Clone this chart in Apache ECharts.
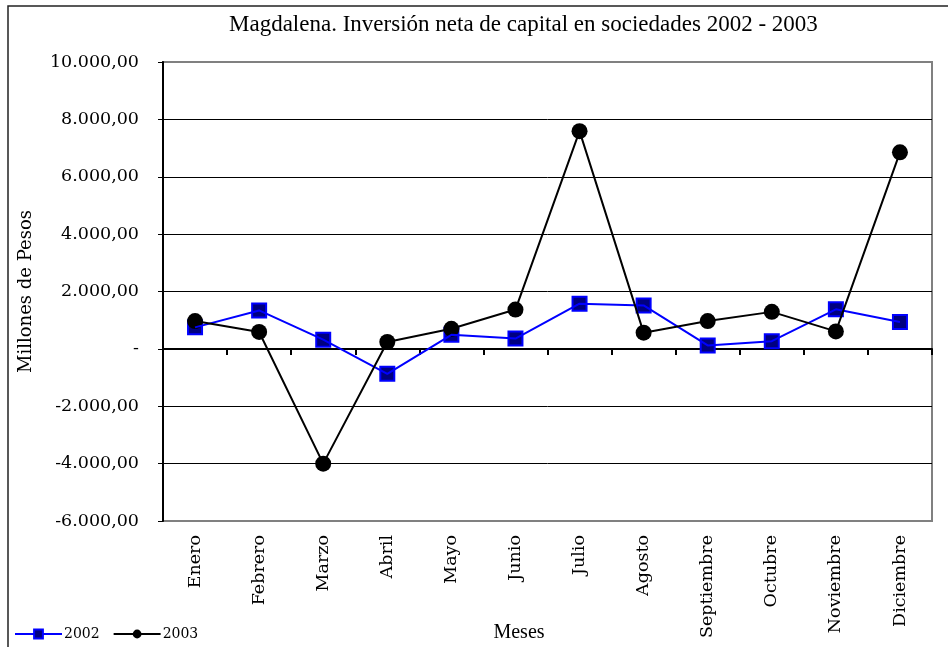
<!DOCTYPE html>
<html><head><meta charset="utf-8">
<script src="https://cdn.jsdelivr.net/npm/echarts@6/dist/echarts.min.js"></script>
<style>html,body{margin:0;padding:0;background:#fff}#c{width:948px;height:647px}</style>
</head><body><div id="c"></div>
<script>
const months = ['Enero','Febrero','Marzo','Abril','Mayo','Junio','Julio','Agosto','Septiembre','Octubre','Noviembre','Diciembre'];
const values2002 = [750, 1340, 320, -870, 490, 360, 1575, 1515, 120, 270, 1380, 935];
const values2003 = [970, 590, -4000, 240, 700, 1370, 7590, 565, 970, 1290, 610, 6850];
const yTicks = {min: -6000, max: 10000, interval: 2000};

function fmt(v){
  if (v === 0) return '-';
  const neg = v < 0; let s = String(Math.abs(Math.round(v)));
  s = s.replace(/\B(?=(\d{3})+(?!\d))/g, '.');
  return (neg ? '-' : '') + s + ',00';
}
const wide = "'DejaVu Serif', serif";
const narrow = "'Liberation Serif', serif";
const chart = echarts.init(document.getElementById('c'), null, {renderer:'canvas'});
chart.setOption({
  animation: false,
  backgroundColor: '#fff',
  title: {
    text: 'Magdalena. Inversión neta de capital en sociedades 2002 - 2003',
    left: 224, top: 8,
    textStyle: {fontFamily: narrow, fontSize: 23, fontWeight: 'normal', color: '#000'}
  },
  legend: {
    left: 9, bottom: 1, itemWidth: 47, itemHeight: 11, itemGap: 13,
    data: ['2002', '2003'],
    textStyle: {fontFamily: wide, fontSize: 14, color: '#000', padding: [0,0,0,-3]}
  },
  grid: {left: 163, right: 16, top: 62, bottom: 126, show: true, borderColor: '#808080', borderWidth: 2, backgroundColor: 'transparent'},
  xAxis: [{
    type: 'category', data: months, boundaryGap: true,
    axisLine: {onZero: true, lineStyle: {color: '#000', width: 2}},
    axisTick: {show: true, interval: 0, alignWithLabel: false, length: 6, lineStyle: {color: '#000', width: 2}},
    axisLabel: {show: false, interval: 0}, splitLine: {show: false}
  }, {
    type: 'category', data: months, boundaryGap: true, position: 'bottom',
    axisLine: {show: false, onZero: false}, axisTick: {show: false},
    axisLabel: {show: true, interval: 0, rotate: 90, margin: 14, fontFamily: wide, fontSize: 17.5, color: '#000'},
    splitLine: {show: false}
  }],
  yAxis: {
    type: 'value', min: yTicks.min, max: yTicks.max, interval: yTicks.interval,
    name: 'Millones de Pesos', nameLocation: 'middle', nameGap: 128,
    nameTextStyle: {fontFamily: wide, fontSize: 18, color: '#000'},
    axisLine: {show: true, onZero: false, lineStyle: {color: '#000', width: 2}},
    axisTick: {show: true, length: 5, lineStyle: {color: '#000', width: 1}},
    axisLabel: {formatter: fmt, margin: 24, fontFamily: wide, fontSize: 17.5, color: '#000'},
    splitLine: {show: true, showMinLine: false, showMaxLine: false, lineStyle: {color: '#000', width: 1}}
  },
  graphic: [
    {type: 'rect', shape: {x: 8, y: 6, width: 1000, height: 1000}, style: {fill: 'none', stroke: '#222', lineWidth: 1.5}, silent: true},
    {type: 'text', x: 519, y: 633, style: {text: 'Meses', fontFamily: narrow, fontSize: 20, fill: '#000', align: 'center', verticalAlign: 'middle'}}
  ],
  series: [
    {name: '2002', type: 'line', data: values2002, showSymbol: false, symbol: 'rect', symbolSize: 14,
     lineStyle: {color: '#0000ff', width: 2}, itemStyle: {color: '#000080', borderColor: '#0000ff', borderWidth: 2}},
    {name: '2003', type: 'line', data: values2003, showSymbol: false, symbol: 'circle', symbolSize: 16,
     lineStyle: {color: '#000', width: 2}, itemStyle: {color: '#000', borderColor: '#000', borderWidth: 0}},
    {name: '2002m', type: 'scatter', data: values2002, symbol: 'rect', symbolSize: 14,
     itemStyle: {color: '#000080', borderColor: '#0000ff', borderWidth: 2, opacity: 1}},
    {name: '2003m', type: 'scatter', data: values2003, symbol: 'circle', symbolSize: 16,
     itemStyle: {color: '#000', opacity: 1}}
  ]
});
</script></body></html>
